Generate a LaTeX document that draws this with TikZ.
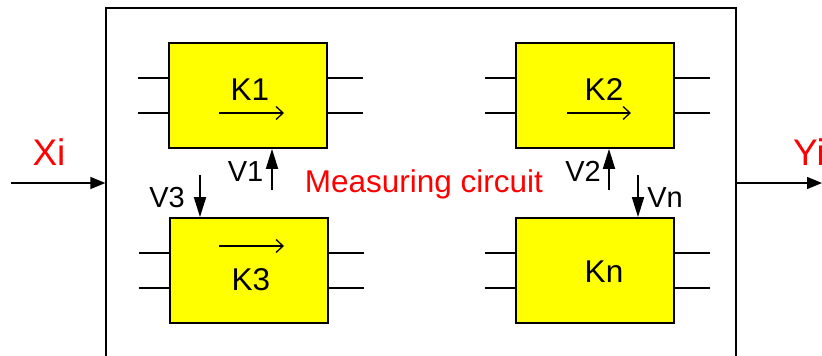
\documentclass[tikz,border=0pt]{standalone}
\usepackage{fontspec}
\setmainfont{Liberation Sans}
\usetikzlibrary{arrows.meta,calc}
\definecolor{kyellow}{RGB}{255,255,0}
\definecolor{kred}{RGB}{255,0,0}
\begin{document}
\begin{tikzpicture}[x=1pt,y=-1pt,
  kbox/.style={draw=black,line width=1.8pt,fill=kyellow,minimum width=158pt,minimum height=105pt,inner sep=0pt},
  outerbox/.style={draw=black,line width=1.3pt,minimum width=630pt,minimum height=380pt,inner sep=0pt},
  lead/.style={line width=1.4pt},
  inarrow/.style={line width=1.3pt,-{Straight Barb[length=7pt,width=13pt]}},
  varrow/.style={line width=1.8pt,-{Triangle[length=20pt,width=12pt]}},
  ioarrow/.style={line width=1.4pt,-{Triangle[length=15pt,width=12pt]}},
  ktext/.style={font=\fontsize{31.5}{36}\selectfont,anchor=base,inner sep=0pt},
  vtext/.style={font=\fontsize{29}{34}\selectfont,anchor=base,inner sep=0pt},
  redtext/.style={text=kred,anchor=base,inner sep=0pt}]
\useasboundingbox (0,0) rectangle (822,356);
\clip (0,0) rectangle (822,356);
\fill[white] (0,0) rectangle (822,356);
% outer box
\node[outerbox] (outer) at (421,198) {};
% blocks
\node[kbox] (k1) at (248,95.5) {};
\node[kbox] (k2) at (595,95.5) {};
\node[kbox] (k3) at (249,270.5) {};
\node[kbox] (kn) at (595,270.5) {};
% leads
\foreach \k in {k1,k2,k3,kn}{
  \draw[lead] ($(\k.west)+(-30,-17.5)$) -- ($(\k.west)+(0,-17.5)$);
  \draw[lead] ($(\k.west)+(-30,17.5)$) -- ($(\k.west)+(0,17.5)$);
  \draw[lead] ($(\k.east)+(0,-17.5)$) -- ($(\k.east)+(35,-17.5)$);
  \draw[lead] ($(\k.east)+(0,17.5)$) -- ($(\k.east)+(35,17.5)$);
}
% texts in blocks
\node[ktext] (t1) at (250,100) {K1};
\node[ktext] (t2) at (604,100) {K2};
\node[ktext] (t3) at (251,290) {K3};
\node[ktext] (tn) at (604,282.7) {Kn};
% inner arrows
\coordinate (a1s) at (219,113); \coordinate (a1e) at (284,113);
\coordinate (a2s) at (567,113); \coordinate (a2e) at (631,113);
\coordinate (a3s) at (219,246); \coordinate (a3e) at (284,246);
\draw[inarrow] (a1s) -- (a1e);
\draw[inarrow] (a2s) -- (a2e);
\draw[inarrow] (a3s) -- (a3e);
% V arrows
\coordinate (v1s) at (272,190);
\coordinate (v2s) at (609,190);
\coordinate (v3s) at (200,175);
\coordinate (vns) at (638,175);
\draw[varrow] (v1s) -- (v1s |- k1.south);
\draw[varrow] (v2s) -- (v2s |- k2.south);
\draw[varrow] (v3s) -- (v3s |- k3.north);
\draw[varrow] (vns) -- (vns |- kn.north);
\node[vtext] (lv1) at (245.5,181.7) {V1};
\node[vtext] (lv2) at (583,181.7) {V2};
\node[vtext] (lv3) at (167,207.3) {V3};
\node[vtext] (lvn) at (665,207.3) {Vn};
% measuring circuit
\node[redtext,font=\fontsize{31.5}{36}\selectfont] (mc) at (424,192.7) {Measuring circuit};
% input / output
\coordinate (xin) at (11,183);
\coordinate (yout) at (822,183);
\draw[ioarrow] (xin) -- (xin -| outer.west);
\draw[ioarrow] (yout -| outer.east) -- (yout);
\node[redtext,font=\fontsize{37}{42}\selectfont] (xi) at (49,165) {Xi};
\node[redtext,font=\fontsize{37}{42}\selectfont,anchor=base west] (yi) at (793,165) {Yi};
\end{tikzpicture}
\end{document}
